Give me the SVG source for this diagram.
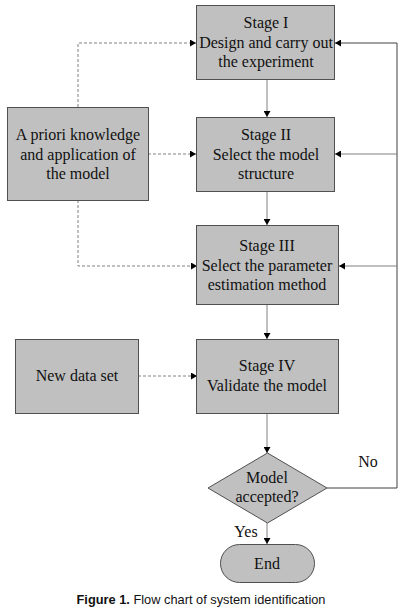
<svg xmlns="http://www.w3.org/2000/svg" width="403" height="612" viewBox="0 0 403 612">
<style>
.box{fill:#c0c0c0;stroke:#505050;stroke-width:1}
.t{font-family:"Liberation Serif","Times New Roman",serif;font-size:16px;fill:#111;text-anchor:middle}
.solid{fill:none;stroke:#808080;stroke-width:1}
.fb{fill:none;stroke:#404040;stroke-width:1}
.dash{fill:none;stroke:#808080;stroke-width:1;stroke-dasharray:3,2}
.cap{font-family:"Liberation Sans",Arial,sans-serif;font-size:12.8px;fill:#111}
</style>
<defs>
<marker id="ah" markerWidth="7" markerHeight="7" refX="6" refY="3.5" orient="auto" markerUnits="userSpaceOnUse">
<path d="M0,0 L6,3.5 L0,7 Z" fill="#000"/>
</marker>
</defs>
<rect width="403" height="612" fill="#fff"/>
<g id="connectors">
<path class="solid" d="M267,79 V117" marker-end="url(#ah)"/>
<path class="solid" d="M267,191 V225" marker-end="url(#ah)"/>
<path class="solid" d="M267,304 V339" marker-end="url(#ah)"/>
<path class="solid" d="M267,413 V453" marker-end="url(#ah)"/>
<path class="solid" d="M267,523 V544" marker-end="url(#ah)"/>
<path class="fb" d="M327,488 H397 V43 H335" marker-end="url(#ah)"/>
<path class="solid" d="M397,154 H335" marker-end="url(#ah)"/>
<path class="solid" d="M397,266 H339" marker-end="url(#ah)"/>
<path class="dash" d="M78,107 V43 H196" marker-end="url(#ah)"/>
<path class="dash" d="M148,154 H196" marker-end="url(#ah)"/>
<path class="dash" d="M78,200 V266 H197" marker-end="url(#ah)"/>
<path class="dash" d="M138,376 H197" marker-end="url(#ah)"/>
</g>
<g id="stage1">
<rect class="box" x="196.5" y="5.5" width="138" height="74"/>
<text class="t" x="266" y="28">Stage I</text>
<text class="t" x="266" y="48">Design and carry out</text>
<text class="t" x="266" y="67">the experiment</text>
</g>
<g id="stage2">
<rect class="box" x="196.5" y="117.5" width="138" height="74"/>
<text class="t" x="266" y="140">Stage II</text>
<text class="t" x="266" y="160">Select the model</text>
<text class="t" x="266" y="179">structure</text>
</g>
<g id="prior">
<rect class="box" x="7.5" y="107.5" width="141" height="93"/>
<text class="t" x="78" y="140">A priori knowledge</text>
<text class="t" x="78" y="160">and application of</text>
<text class="t" x="78" y="179">the model</text>
</g>
<g id="stage3">
<rect class="box" x="196.5" y="225.5" width="142" height="79"/>
<text class="t" x="267" y="251">Stage III</text>
<text class="t" x="267" y="271">Select the parameter</text>
<text class="t" x="267" y="290">estimation method</text>
</g>
<g id="newdata">
<rect class="box" x="15.5" y="339.5" width="123" height="74"/>
<text class="t" x="77" y="381">New data set</text>
</g>
<g id="stage4">
<rect class="box" x="196.5" y="339.5" width="142" height="74"/>
<text class="t" x="267" y="371">Stage IV</text>
<text class="t" x="267" y="391">Validate the model</text>
</g>
<g id="decision">
<path class="box" d="M267.5,453 L327,488 L267.5,523 L208,488 Z"/>
<text class="t" x="267" y="483">Model</text>
<text class="t" x="267" y="502">accepted?</text>
</g>
<text class="t" x="368" y="467">No</text>
<text class="t" x="246" y="537">Yes</text>
<g id="end">
<rect class="box" x="220.5" y="544.5" width="94" height="38" rx="19" ry="19"/>
<text class="t" x="267" y="569">End</text>
</g>
<text class="cap" x="201" y="604" text-anchor="middle"><tspan font-weight="bold">Figure 1.</tspan> Flow chart of system identification</text>
</svg>
